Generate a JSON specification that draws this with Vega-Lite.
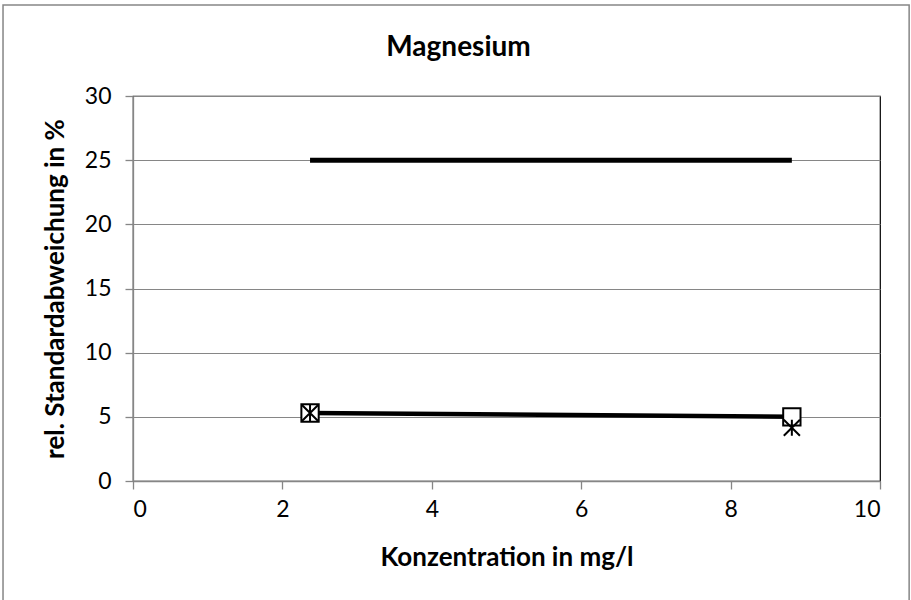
{
  "$schema": "https://vega.github.io/schema/vega-lite/v6.json",
  "width": 747,
  "height": 385,
  "autosize": {"type": "none"},
  "padding": {"left": 133, "top": 96, "right": 31, "bottom": 119},
  "background": "white",
  "title": {"text": "Magnesium", "frame": "group", "font": "Lato", "fontSize": 28, "fontWeight": "bold", "color": "black", "anchor": "middle", "baseline": "alphabetic", "dx": -48, "offset": -80},
  "config": {
    "view": {"stroke": "black", "strokeWidth": 1.2},
    "axis": {"labelFont": "Lato", "labelFontSize": 23, "labelColor": "black", "titleFont": "Lato", "titleFontSize": 26, "titleFontWeight": "bold", "titleColor": "black", "domainColor": "#868686", "domainWidth": 1.3, "tickColor": "#868686", "tickSize": 8, "tickWidth": 1.3, "gridColor": "#868686", "gridWidth": 1.2}
  },
  "data": {"values": [
    {"series": "Grenze", "x": 2.37, "y": 25},
    {"series": "Grenze", "x": 8.82, "y": 25},
    {"series": "A", "x": 2.37, "y": 5.3},
    {"series": "A", "x": 8.82, "y": 5.0},
    {"series": "B", "x": 2.37, "y": 5.3},
    {"series": "B", "x": 8.82, "y": 4.15}
  ]},
  "layer": [
    {
      "mark": {"type": "rect", "clip": false, "fill": null, "stroke": "#868686", "strokeWidth": 1.5},
      "data": {"values": [{}]},
      "encoding": {
        "x": {"datum": -1.74, "type": "quantitative", "scale": {"domain": [0, 10]}},
        "x2": {"datum": 10.39},
        "y": {"datum": 37.09, "type": "quantitative", "scale": {"domain": [0, 30]}},
        "y2": {"datum": -9.66}
      }
    },
    {
      "mark": {"type": "line", "color": "black", "strokeWidth": 5},
      "transform": [{"filter": "datum.series === 'Grenze'"}],
      "encoding": {
        "x": {"field": "x", "type": "quantitative", "scale": {"domain": [0, 10]},
          "axis": {"values": [0, 2, 4, 6, 8, 10], "format": "d", "grid": false, "title": "Konzentration in mg/l", "titlePadding": 23, "labelPadding": 9}},
        "y": {"field": "y", "type": "quantitative", "scale": {"domain": [0, 30]},
          "axis": {"values": [0, 5, 10, 15, 20, 25, 30], "format": "d", "grid": true, "title": "rel. Standardabweichung in %", "titlePadding": 16, "labelPadding": 14}}
      }
    },
    {
      "mark": {"type": "line", "color": "black", "strokeWidth": 4.5},
      "transform": [{"filter": "datum.series === 'A'"}],
      "encoding": {
        "x": {"field": "x", "type": "quantitative"},
        "y": {"field": "y", "type": "quantitative"}
      }
    },
    {
      "mark": {"type": "point", "shape": "square", "size": 300, "filled": false, "fill": "white", "fillOpacity": 1, "stroke": "black", "strokeWidth": 2, "opacity": 1},
      "transform": [{"filter": "datum.series === 'A'"}],
      "encoding": {
        "x": {"field": "x", "type": "quantitative"},
        "y": {"field": "y", "type": "quantitative"}
      }
    },
    {
      "mark": {"type": "point", "shape": "M-1,-1L1,1M-1,1L1,-1M0,-1L0,1", "size": 260, "filled": false, "stroke": "black", "strokeWidth": 2, "opacity": 1},
      "transform": [{"filter": "datum.series === 'B'"}],
      "encoding": {
        "x": {"field": "x", "type": "quantitative"},
        "y": {"field": "y", "type": "quantitative"}
      }
    }
  ]
}
